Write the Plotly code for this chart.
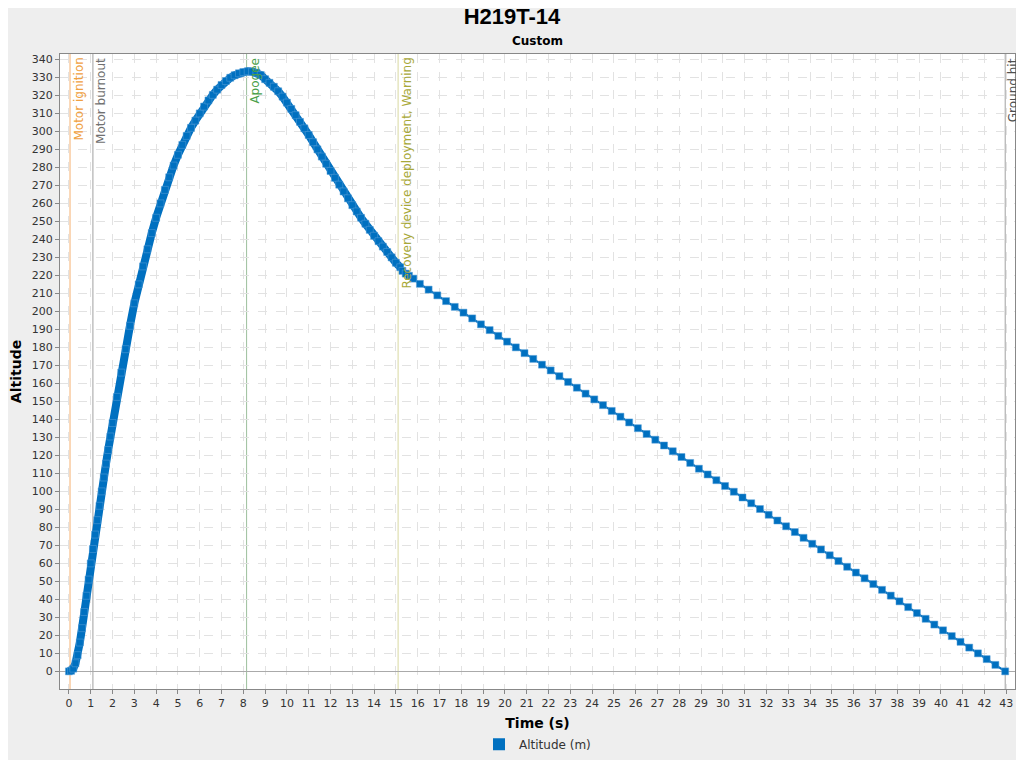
import plotly.graph_objects as go

# flight data
t_boost = [0.0, 0.1, 0.2, 0.3, 0.4, 0.5, 0.6, 0.7, 0.8, 0.9, 1.0,
           1.1, 1.2, 1.3, 1.4, 1.5, 1.6, 1.7, 1.8, 1.9, 2.0]
alt_boost = [0.0, 0.3, 1.5, 4.5, 9.0, 16.0, 24.0, 33.0, 42.0, 51.0, 60.0,
             68.0, 76.0, 84.0, 92.0, 100.0, 107.7, 115.4, 123.0, 130.5, 138.0]

t_coast = [2.2, 2.4, 2.6, 2.8, 3.0, 3.2, 3.4, 3.6, 3.8, 4.0, 4.2, 4.4, 4.6, 4.8,
           5.0, 5.2, 5.4, 5.6, 5.8, 6.0, 6.2, 6.4, 6.6, 6.8, 7.0, 7.2, 7.4, 7.6,
           7.8, 8.0, 8.2, 8.4, 8.6, 8.8, 9.0, 9.2, 9.4, 9.6, 9.8, 10.0, 10.2,
           10.4, 10.6, 10.8, 11.0, 11.2, 11.4, 11.6, 11.8, 12.0, 12.2, 12.4,
           12.6, 12.8, 13.0, 13.2, 13.4, 13.6, 13.8, 14.0, 14.2, 14.4, 14.6,
           14.8, 15.0, 15.2]
alt_coast = [152.5, 166.0, 179.0, 192.0, 204.5, 215.0, 225.0, 234.5, 243.5, 252.0,
             260.0, 267.5, 274.5, 281.0, 287.0, 292.5, 297.5, 302.0, 306.0, 310.0,
             313.8, 317.2, 320.3, 323.2, 325.8, 328.0, 329.8, 331.2, 332.3, 333.0,
             333.4, 333.2, 332.6, 331.3, 329.0, 327.0, 324.8, 322.3, 319.3, 316.0,
             312.5, 309.0, 305.3, 301.7, 298.0, 294.0, 290.0, 286.0, 282.0, 278.0,
             274.2, 270.4, 266.6, 262.8, 259.0, 255.5, 252.0, 248.7, 245.3, 242.0,
             239.0, 236.0, 233.0, 230.0, 227.0, 224.5]

t_chute = [15.3, 15.45, 15.6, 15.8, 16.1, 16.5, 16.9, 17.3, 17.7, 18.1, 18.5, 18.9,
           19.3, 19.7, 20.1, 20.5, 20.9, 21.3, 21.7, 22.1, 22.5, 22.9, 23.3, 23.7,
           24.1, 24.5, 24.9, 25.3, 25.7, 26.1, 26.5, 26.9, 27.3, 27.7, 28.1, 28.5,
           28.9, 29.3, 29.7, 30.1, 30.5, 30.9, 31.3, 31.7, 32.1, 32.5, 32.9, 33.3,
           33.7, 34.1, 34.5, 34.9, 35.3, 35.7, 36.1, 36.5, 36.9, 37.3, 37.7, 38.1,
           38.5, 38.9, 39.3, 39.7, 40.1, 40.5, 40.9, 41.3, 41.7, 42.1, 42.5, 42.95]
alt_chute = [222.5, 221.0, 219.8, 218.2, 215.3, 212.1, 208.9, 205.7, 202.5, 199.3,
             196.1, 192.8, 189.6, 186.4, 183.2, 180.0, 176.8, 173.6, 170.4, 167.2,
             164.0, 160.8, 157.6, 154.3, 151.1, 147.9, 144.7, 141.5, 138.3, 135.1,
             131.9, 128.7, 125.5, 122.3, 119.1, 115.8, 112.6, 109.4, 106.2, 103.0,
             99.8, 96.6, 93.4, 90.2, 87.0, 83.8, 80.6, 77.4, 74.2, 70.9, 67.7, 64.5,
             61.3, 58.1, 54.9, 51.7, 48.5, 45.3, 42.1, 38.9, 35.7, 32.4, 29.2, 26.0,
             22.8, 19.6, 16.4, 13.2, 10.0, 6.8, 3.6, 0.0]

event_names = ["Motor ignition", "Motor burnout", "Apogee",
               "Recovery device deployment, Warning", "Ground hit"]
event_times = [0.05, 1.1, 8.15, 15.1, 42.95]
event_colors = ["#f5b070", "#a0a0a0", "#9cbf9c", "#d8d8a0", "#a0a0a0"]
event_text_colors = ["#f0a040", "#707070", "#4aa04a", "#a8a838", "#505050"]

BLUE = "#0070c0"
t_all = t_boost + t_coast + t_chute
alt_all = alt_boost + alt_coast + alt_chute

fig = go.Figure()
# dense part of the flight merges into a thick band
fig.add_trace(go.Scatter(x=t_boost + t_coast, y=alt_boost + alt_coast, mode="lines",
                         line=dict(color=BLUE, width=8), showlegend=False, hoverinfo="skip"))
fig.add_trace(go.Scatter(x=t_all, y=alt_all, mode="lines+markers", name="Altitude (m)",
                         line=dict(color=BLUE, width=2), showlegend=False,
                         marker=dict(symbol="square", size=7, color=BLUE,
                                     line=dict(color="#5aa0d8", width=0.5))))
# legend entry: plain square
fig.add_trace(go.Scatter(x=[None], y=[None], mode="markers", name="Altitude (m)",
                         marker=dict(symbol="square", size=12, color=BLUE)))

shapes = []
annotations = []
for name, t, c, tc in zip(event_names, event_times, event_colors, event_text_colors):
    shapes.append(dict(type="line", xref="x", yref="paper", x0=t, x1=t, y0=0, y1=1,
                       line=dict(color=c, width=1), layer="below"))
    annotations.append(dict(x=t, y=1, xref="x", yref="paper", text=name, textangle=-90,
                            showarrow=False, xanchor="left", yanchor="top", xshift=-1, yshift=-2,
                            font=dict(size=12, color=tc, family="DejaVu Sans")))

annotations.append(dict(x=0.5, y=1, xref="paper", yref="paper", yshift=13, showarrow=False,
                        yanchor="middle", text="<b>Custom</b>",
                        font=dict(size=12, color="black")))

fig.update_layout(
    width=1008, height=752,
    paper_bgcolor="#eeeeee", plot_bgcolor="white",
    margin=dict(l=52, r=1, t=46, b=60),
    font=dict(family="DejaVu Sans", size=11, color="#333333"),
    title=dict(text="<b>H219T-14</b>", x=0.5, xanchor="center", y=0.989, yanchor="middle",
               font=dict(size=22, color="black", family="Liberation Sans")),
    shapes=shapes, annotations=annotations,
    legend=dict(orientation="h", x=0.5, xanchor="center", y=-0.087, yanchor="middle",
                bgcolor="rgba(0,0,0,0)", font=dict(size=12, color="#333333")),
    xaxis=dict(range=[-0.41, 43.4], dtick=1, tick0=0, showgrid=True, gridcolor="#e2e2e2",
               griddash="dash", zeroline=False, showline=True, linecolor="#888888", mirror=True,
               ticks="outside", ticklen=4, tickcolor="#888888",
               title=dict(text="<b>Time (s)</b>", font=dict(size=14, color="black"), standoff=8)),
    yaxis=dict(range=[-9.8, 343], dtick=10, tick0=0, showgrid=True, gridcolor="#e2e2e2",
               griddash="dash", zeroline=True, zerolinecolor="#aaaaaa", zerolinewidth=1,
               showline=True, linecolor="#888888", mirror=True,
               ticks="outside", ticklen=4, tickcolor="#888888",
               title=dict(text="<b>Altitude</b>", font=dict(size=14, color="black"), standoff=6)),
)

fig.write_html("out.html")
